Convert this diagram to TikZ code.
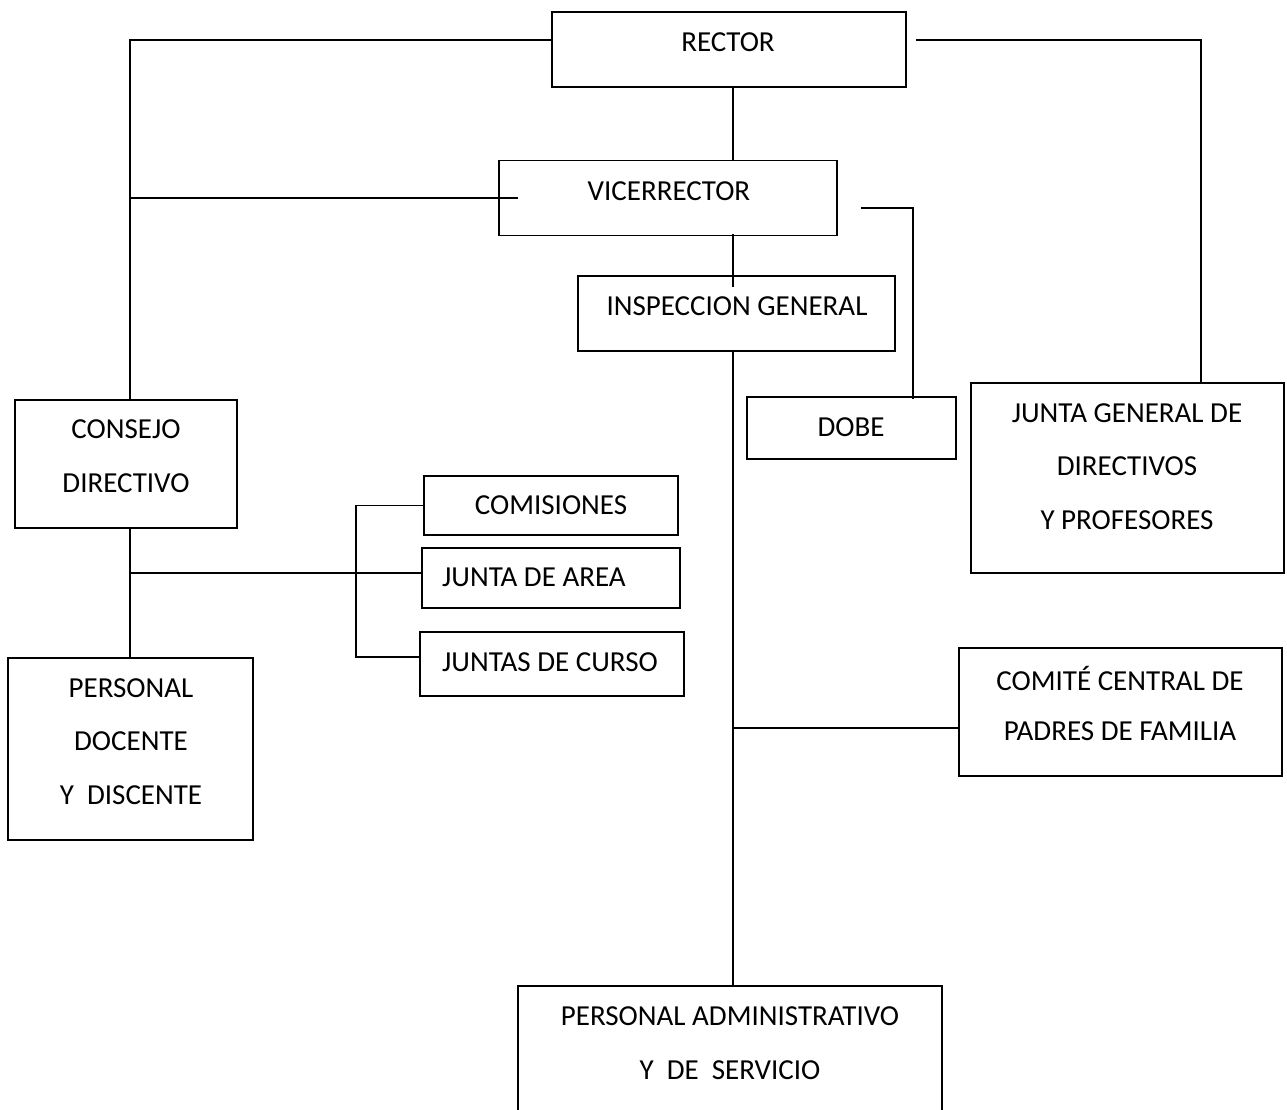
\documentclass[tikz,border=0pt]{standalone}
\usepackage{fontspec}
\setmainfont{Carlito}
\begin{document}
\begin{tikzpicture}[x=1pt,y=-1pt,
  box/.style={draw,line width=1.6pt,rectangle,inner sep=0pt},
  txt/.style={font=\fontsize{29}{34}\selectfont,inner sep=0pt,anchor=center},
  ltxt/.style={font=\fontsize{29}{34}\selectfont,inner sep=0pt,anchor=west},
  conn/.style={draw,line width=1.6pt}]
\useasboundingbox (0,0) rectangle (1287,1110);
\clip (0,0) rectangle (1287,1110);
% boxes
\node[box,minimum width=354pt,minimum height=75pt] (rector) at (729,49.5) {};
\node[box,minimum width=338pt,minimum height=75pt] (vice) at (668,198) {};
\node[box,minimum width=317pt,minimum height=75pt] (insp) at (736.5,313.5) {};
\node[box,minimum width=222pt,minimum height=128pt] (consejo) at (126,464) {};
\node[box,minimum width=209pt,minimum height=62pt] (dobe) at (851.5,428) {};
\node[box,minimum width=313pt,minimum height=190pt] (jgen) at (1127.5,478) {};
\node[box,minimum width=254pt,minimum height=59pt] (comis) at (551,505.5) {};
\node[box,minimum width=258pt,minimum height=60pt] (area) at (551,578) {};
\node[box,minimum width=264pt,minimum height=64pt] (curso) at (552,664) {};
\node[box,minimum width=245pt,minimum height=182pt] (docente) at (130.5,749) {};
\node[box,minimum width=323pt,minimum height=128pt] (comite) at (1120.5,712) {};
\node[box,minimum width=424pt,minimum height=160pt] (admin) at (730,1066) {};
% texts
\node[txt] (t1) at (728,42) {RECTOR};
\node[txt] (t2) at (669,191) {VICERRECTOR};
\node[txt] (t3) at (737,306) {INSPECCION GENERAL};
\node[txt] (t4a) at (126,429) {CONSEJO};
\node[txt] (t4b) at (126,483) {DIRECTIVO};
\node[txt] (t5) at (851,427) {DOBE};
\node[txt] (t6a) at (1127,413) {JUNTA GENERAL DE};
\node[txt] (t6b) at (1127,466) {DIRECTIVOS};
\node[txt] (t6c) at (1127,520) {Y PROFESORES};
\node[txt] (t7) at (551,505) {COMISIONES};
\node[ltxt] (t8) at (442,577) {JUNTA DE AREA};
\node[ltxt] (t9) at (442,662) {JUNTAS DE CURSO};
\node[txt] (t10a) at (131,688) {PERSONAL};
\node[txt] (t10b) at (131,741) {DOCENTE};
\node[txt] (t10c) at (131,795) {Y\ \ DISCENTE};
\node[txt] (t11a) at (1120,678) {COMITÉ CENTRAL DE};
\node[txt] (t11b) at (1120,731) {PADRES DE FAMILIA};
\node[txt] (t12a) at (730,1016) {PERSONAL ADMINISTRATIVO};
\node[txt] (t12b) at (730,1070) {Y\ \ DE\ \ SERVICIO};
% connectors
\coordinate (lc) at ([xshift=4pt]consejo.north);
\draw[conn] ([yshift=9.5pt]rector.west) -| (lc);
\draw[conn] ([xshift=9pt,yshift=9.5pt]rector.east) -| ([xshift=73.5pt]jgen.north);
\draw[conn] ([xshift=4pt]rector.south) -- ([xshift=4pt]rector.south |- vice.north);
\draw[conn] ([xshift=20pt]vice.west) -- (vice.west -| lc);
\draw[conn] ([xshift=23pt,yshift=-10pt]vice.east) -| ([xshift=61.5pt,yshift=-3pt]dobe.north);
\draw[conn] ([xshift=65pt,yshift=2pt]vice.south) -- ([xshift=-3.5pt,yshift=-12pt]insp.north);
\coordinate (tr) at ([xshift=-3.5pt]insp.south);
\draw[conn] (tr) -- (tr |- admin.north);
\draw[conn] ([yshift=-16pt]comite.west) -- ([yshift=-16pt]comite.west -| tr);
\draw[conn] ([xshift=4pt]consejo.south) -- ([xshift=4pt]consejo.south |- docente.north);
\draw[conn] ([yshift=5pt]area.west) -- ([yshift=5pt]area.west -| lc);
\draw[conn] (comis.west) -- ++(-67,0) |- ([yshift=7pt]curso.west);
\end{tikzpicture}
\end{document}
